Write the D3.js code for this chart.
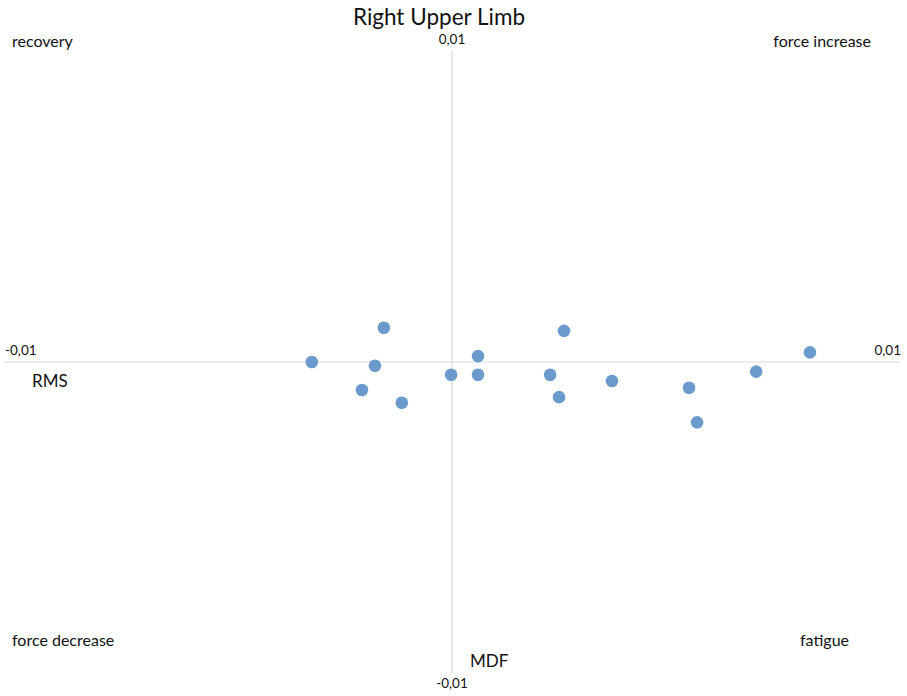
<!DOCTYPE html>
<html>
<head>
<meta charset="utf-8">
<script src="https://cdn.jsdelivr.net/npm/d3@7"></script>
<style>
  html, body { margin: 0; padding: 0; background: #fff; }
  svg { display: block; }
  text { font-family: Lato, "Open Sans", sans-serif; fill: #111; }
</style>
</head>
<body>
<svg id="chart" width="907" height="696"></svg>
<script>
// Data (RMS on x, MDF on y)
const rmsValues = [-0.00313, -0.00152, -0.00172, -0.00201, -0.00112, -0.00002, 0.00058, 0.00058, 0.00250, 0.00219, 0.00239, 0.00357, 0.00529, 0.00547, 0.00679, 0.00799];
const mdfValues = [0.00000, 0.00110, -0.00012, -0.00090, -0.00131, -0.00041, 0.00019, -0.00041, 0.00100, -0.00041, -0.00113, -0.00061, -0.00083, -0.00194, -0.00031, 0.00031];
const axisMin = -0.01, axisMax = 0.01;
const tickLabels = { xMin: "-0,01", xMax: "0,01", yMin: "-0,01", yMax: "0,01" };
const quadrantLabels = ["recovery", "force increase", "force decrease", "fatigue"];
const title = "Right Upper Limb";
const xTitle = "RMS", yTitle = "MDF";

const svg = d3.select("#chart");
const x = d3.scaleLinear().domain([axisMin, axisMax]).range([4, 900]);
const y = d3.scaleLinear().domain([axisMin, axisMax]).range([673, 51]);

// axis lines
svg.append("line").attr("x1", x(axisMin)).attr("x2", x(axisMax))
  .attr("y1", y(0)).attr("y2", y(0)).attr("stroke", "#d9d9d9").attr("stroke-width", 1.2);
svg.append("line").attr("x1", x(0)).attr("x2", x(0))
  .attr("y1", y(axisMax)).attr("y2", y(axisMin)).attr("stroke", "#d9d9d9").attr("stroke-width", 1.2);

// tick labels
svg.append("text").attr("x", x(0)).attr("y", 44).attr("text-anchor", "middle")
  .attr("font-size", 13.5).text(tickLabels.yMax);
svg.append("text").attr("x", x(0)).attr("y", 688).attr("text-anchor", "middle")
  .attr("font-size", 13.5).text(tickLabels.yMin);
svg.append("text").attr("x", 5).attr("y", 355).attr("text-anchor", "start")
  .attr("font-size", 13.5).text(tickLabels.xMin);
svg.append("text").attr("x", 901).attr("y", 355).attr("text-anchor", "end")
  .attr("font-size", 13.5).text(tickLabels.xMax);

// title
svg.append("text").attr("x", 439).attr("y", 25).attr("text-anchor", "middle")
  .attr("font-size", 22.5).text(title);

// axis titles
svg.append("text").attr("x", 32).attr("y", 387).attr("font-size", 17).text(xTitle);
svg.append("text").attr("x", 470).attr("y", 667).attr("font-size", 17).text(yTitle);

// quadrant labels
svg.append("text").attr("x", 12).attr("y", 47).attr("font-size", 16).text(quadrantLabels[0]);
svg.append("text").attr("x", 871).attr("y", 47).attr("text-anchor", "end").attr("font-size", 16).text(quadrantLabels[1]);
svg.append("text").attr("x", 12).attr("y", 646).attr("font-size", 16).text(quadrantLabels[2]);
svg.append("text").attr("x", 849).attr("y", 646).attr("text-anchor", "end").attr("font-size", 16).text(quadrantLabels[3]);

// points
const pts = rmsValues.map((v, i) => ({ rms: v, mdf: mdfValues[i] }));
svg.append("g").selectAll("circle").data(pts).join("circle")
  .attr("cx", d => x(d.rms)).attr("cy", d => y(d.mdf)).attr("r", 6.3)
  .attr("fill", "#6b9bcd");
</script>
</body>
</html>
